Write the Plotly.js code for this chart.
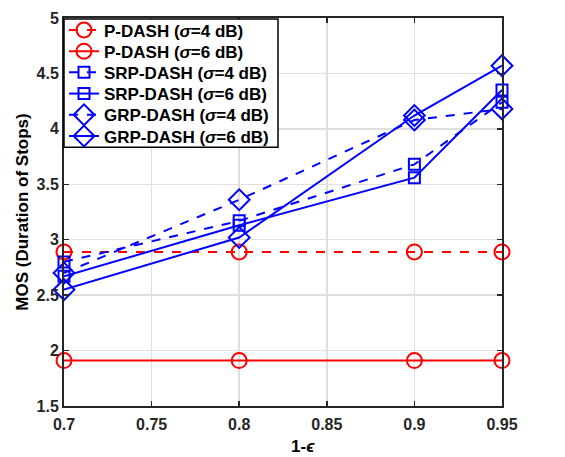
<!DOCTYPE html>
<html>
<head>
<meta charset="utf-8">
<script src="https://cdn.plot.ly/plotly-3.0.1.min.js"></script>
<style>html,body{margin:0;padding:0;background:#fff;}#chart{width:565px;height:457px;}</style>
</head>
<body>
<div id="chart"></div>
<script>
const xVals = [0.7, 0.8, 0.9, 0.95];
const pdash4 = [2.89, 2.89, 2.89, 2.89];
const pdash6 = [1.91, 1.91, 1.91, 1.91];
const srp4 = [2.80, 3.17, 3.68, 4.24];
const srp6 = [2.67, 3.13, 3.56, 4.35];
const grp4 = [2.70, 3.36, 4.08, 4.18];
const grp6 = [2.55, 3.02, 4.12, 4.57];
const names = ['P-DASH (<i>σ</i>=4 dB)', 'P-DASH (<i>σ</i>=6 dB)', 'SRP-DASH (<i>σ</i>=4 dB)', 'SRP-DASH (<i>σ</i>=6 dB)', 'GRP-DASH (<i>σ</i>=4 dB)', 'GRP-DASH (<i>σ</i>=6 dB)'];
const xTicks = [0.7, 0.75, 0.8, 0.85, 0.9, 0.95];
const xTickText = ['0.7', '0.75', '0.8', '0.85', '0.9', '0.95'];
const yTicks = [1.5, 2, 2.5, 3, 3.5, 4, 4.5, 5];
const yTickText = ['1.5', '2', '2.5', '3', '3.5', '4', '4.5', '5'];
const xTitle = '1-<i>ϵ</i>';
const yTitle = 'MOS (Duration of Stops)';

const RED = '#ff0000', BLUE = '#0000ff';
const FAM = 'Liberation Sans, Arial, sans-serif';
const W = 565, H = 457, ML = 64, MR = 63, MT = 16, MB = 51;
const plotH = H - MT - MB;

function tr(y, name, color, dash, symbol, size, idx) {
  return {x: xVals, y: y, name: name, type: 'scatter', mode: 'lines+markers',
    cliponaxis: false,
    legend: idx === 0 ? 'legend' : 'legend' + (idx + 1),
    line: {color: color, width: 2, dash: dash},
    marker: {symbol: symbol, size: size, color: color, line: {color: color, width: 2}}};
}
const data = [
  tr(pdash4, names[0], RED, 'dash', 'circle-open', 15, 0),
  tr(pdash6, names[1], RED, 'solid', 'circle-open', 15, 1),
  tr(srp4, names[2], BLUE, 'dash', 'square-open', 11, 2),
  tr(srp6, names[3], BLUE, 'solid', 'square-open', 11, 3),
  tr(grp4, names[4], BLUE, 'dash', 'diamond-open', 16, 4),
  tr(grp6, names[5], BLUE, 'solid', 'diamond-open', 16, 5)
];

const layout = {
  width: W, height: H,
  margin: {l: ML, r: MR, t: MT, b: MB},
  paper_bgcolor: '#fff', plot_bgcolor: '#fff',
  font: {family: FAM, color: '#262626', size: 16, weight: 'bold'},
  showlegend: true,
  xaxis: {range: [0.7, 0.95], tickvals: xTicks, ticktext: xTickText,
    showline: true, linecolor: '#262626', linewidth: 2, mirror: 'ticks',
    ticks: 'inside', ticklen: 5, tickwidth: 1.5, tickcolor: '#262626',
    ticklabelstandoff: 3,
    showgrid: true, gridcolor: '#dfdfdf', gridwidth: 1.5, zeroline: false,
    tickfont: {family: FAM, size: 16, weight: 'bold', color: '#262626'}},
  yaxis: {range: [1.5, 5], tickvals: yTicks, ticktext: yTickText,
    showline: true, linecolor: '#262626', linewidth: 2, mirror: 'ticks',
    ticks: 'inside', ticklen: 5, tickwidth: 1.5, tickcolor: '#262626',
    showgrid: true, gridcolor: '#dfdfdf', gridwidth: 1.5, zeroline: false,
    tickfont: {family: FAM, size: 16, weight: 'bold', color: '#262626'},
    title: {text: yTitle, standoff: 4, font: {family: FAM, size: 17, weight: 'bold', color: '#000'}}},
  annotations: [{text: xTitle, xref: 'paper', yref: 'paper', x: (303 - ML) / (W - ML - MR),
    y: 1 - (447 - MT) / plotH, xanchor: 'center', yanchor: 'middle', showarrow: false,
    font: {family: FAM, size: 17, weight: 'bold', color: '#000'}}],
  shapes: [{type: 'rect', xref: 'paper', yref: 'paper', layer: 'above',
    x0: 0, x1: (278 - ML) / (W - ML - MR), y0: 1 - (146 - MT) / plotH, y1: 1 - (17 - MT) / plotH,
    fillcolor: '#fff', line: {color: '#000', width: 1.5}}]
};
for (let i = 0; i < 6; i++) {
  const key = i === 0 ? 'legend' : 'legend' + (i + 1);
  const cy = 28.5 + 21.3 * i;
  layout[key] = {x: 0.0, y: 1 - (cy - MT) / plotH, xanchor: 'left', yanchor: 'middle',
    bgcolor: 'rgba(0,0,0,0)', borderwidth: 0, itemwidth: 30,
    font: {family: FAM, size: 17, color: '#000', weight: 'bold'}};
}
Plotly.newPlot('chart', data, layout, {displayModeBar: false, staticPlot: true});
</script>
</body>
</html>
